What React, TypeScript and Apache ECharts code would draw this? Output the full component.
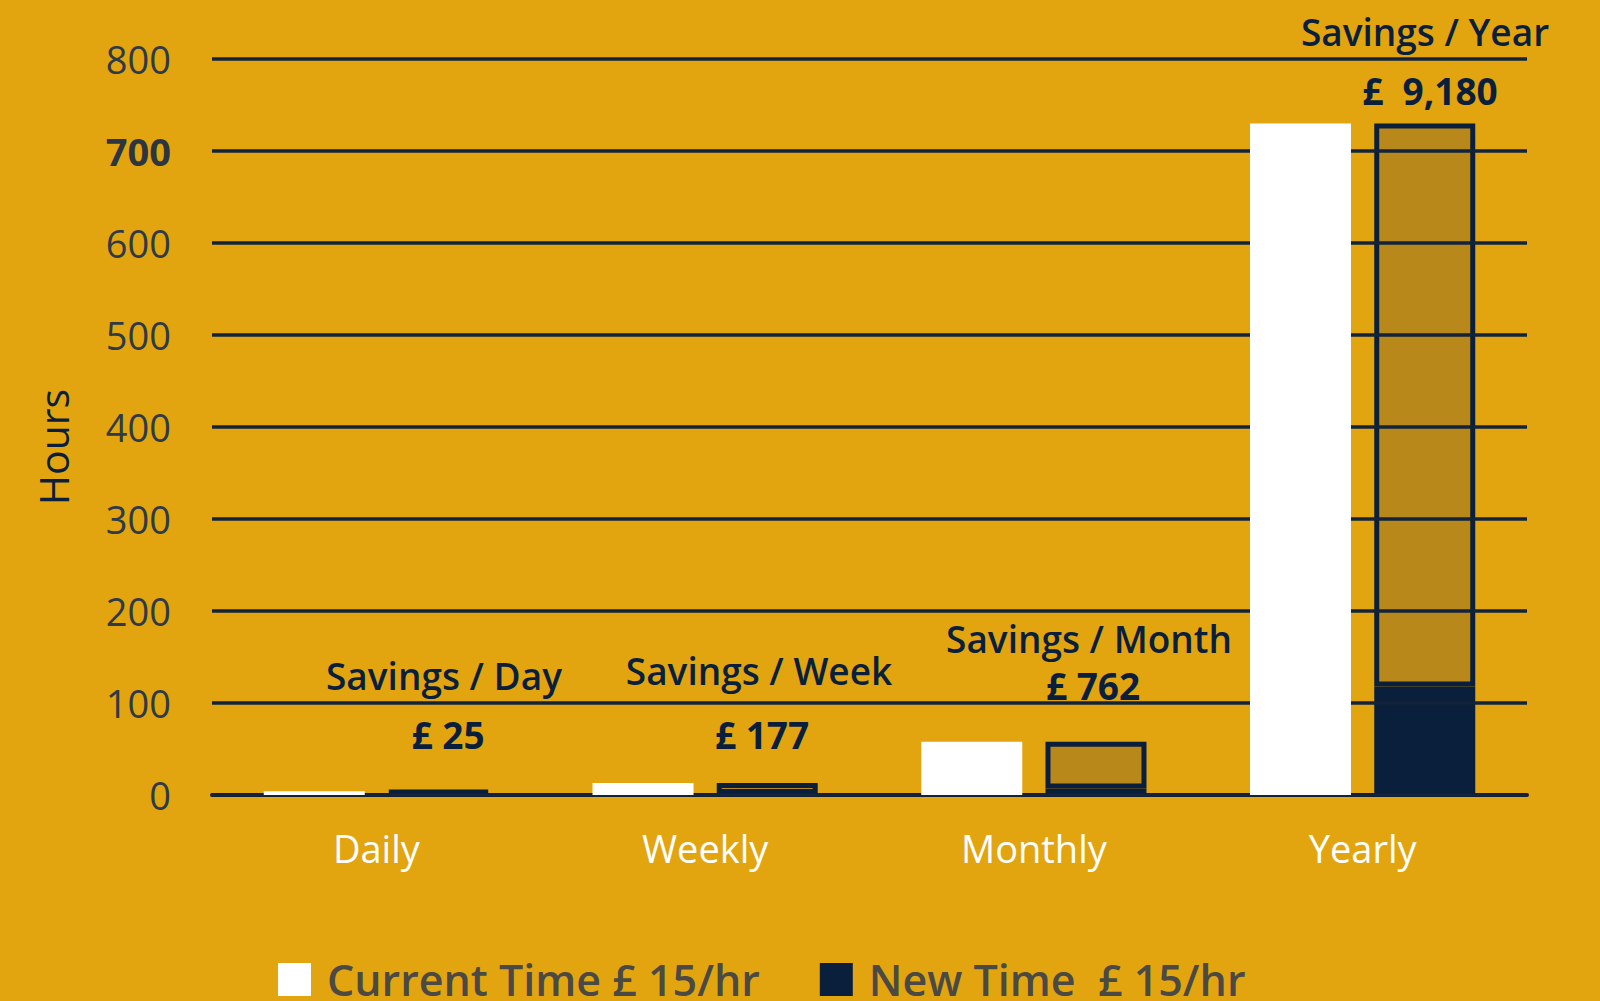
import React, { useEffect, useRef } from "react";
import * as echarts from "echarts";

const categories = ["Daily", "Weekly", "Monthly", "Yearly"];
const currentTime = [4, 13, 58, 730];
const newTime = [2.3, 1.2, 7.2, 118];
const savingsHours = [1.7, 11.8, 50.8, 612];
const savingsTitles = ["Savings / Day", "Savings / Week", "Savings / Month", "Savings / Year"];
const savingsAmounts = ["£ 25", "£ 177", "£ 762", "£  9,180"];
const yTicks = [0, 100, 200, 300, 400, 500, 600, 700, 800];
const seriesNames = ["Current Time £ 15/hr", "New Time  £ 15/hr", "Savings"];

const BG = "#E2A50F";
const NAVY = "#0A1F3B";
const GOLD = "#B8891A";
const FONT = "'Open Sans', 'DejaVu Sans', sans-serif";

// annotation placement (pixel layout), one per category
const titlePos = [
  [444, 675],
  [759, 670],
  [1089, 638],
  [1425, 31],
];
const amountPos = [
  [448, 734],
  [762, 734],
  [1093, 685],
  [1430, 90],
];

export default function App() {
  const ref = useRef<HTMLDivElement>(null);

  useEffect(() => {
    document.body.style.margin = "0";
    if (!ref.current) return;
    const chart = echarts.init(ref.current, null, { renderer: "svg" });

    const graphics: any[] = [];
    savingsTitles.forEach((t, i) => {
      graphics.push({
        type: "text",
        x: titlePos[i][0],
        y: titlePos[i][1],
        style: {
          text: t,
          fontSize: 37,
          fontWeight: 600,
          fontFamily: FONT,
          fill: NAVY,
          align: "center",
          verticalAlign: "middle",
          textAlign: "center",
          textVerticalAlign: "middle",
        },
      });
      graphics.push({
        type: "text",
        x: amountPos[i][0],
        y: amountPos[i][1],
        style: {
          text: savingsAmounts[i],
          fontSize: 37,
          fontWeight: 700,
          fontFamily: FONT,
          fill: NAVY,
          align: "center",
          verticalAlign: "middle",
          textAlign: "center",
          textVerticalAlign: "middle",
        },
      });
    });
    graphics.push({
      type: "text",
      x: 53,
      y: 447,
      rotation: Math.PI / 2,
      style: {
        text: "Hours",
        fontSize: 41,
        fontFamily: FONT,
        fill: NAVY,
        align: "center",
        verticalAlign: "middle",
        textAlign: "center",
        textVerticalAlign: "middle",
      },
    });

    chart.setOption({
      animation: false,
      backgroundColor: BG,
      grid: { left: 212, right: 73, top: 59, bottom: 206 },
      legend: {
        data: [seriesNames[0], seriesNames[1]],
        left: 273,
        top: 953,
        itemWidth: 33,
        itemHeight: 33,
        itemGap: 60,
        icon: "rect",
        textStyle: {
          fontSize: 43,
          fontWeight: 600,
          color: "#4A4944",
          fontFamily: FONT,
          padding: [0, 0, 0, 11],
        },
      },
      xAxis: {
        type: "category",
        data: categories,
        axisTick: { show: false },
        axisLine: { show: true, lineStyle: { color: NAVY, width: 4 } },
        axisLabel: {
          color: "#FFFFFF",
          fontSize: 38,
          fontFamily: FONT,
          margin: 34,
        },
      },
      yAxis: {
        type: "value",
        min: 0,
        max: 800,
        interval: 100,
        z: 3,
        axisLine: { show: false },
        axisTick: { show: false },
        splitLine: { show: true, lineStyle: { color: "#12233A", width: 3.5 } },
        axisLabel: {
          margin: 41,
          fontSize: 38,
          fontFamily: FONT,
          color: "#2E3A47",
          formatter: (v: number) => (yTicks.includes(v) && v === 700 ? "{b|" + v + "}" : String(v)),
          rich: {
            b: { fontSize: 38, fontWeight: 700, fontFamily: FONT, color: "#2B3640" },
          },
        },
      },
      series: [
        {
          name: seriesNames[0],
          type: "bar",
          data: currentTime,
          barWidth: 101,
          barGap: "23%",
          z: 5,
          itemStyle: { color: "#FFFFFF" },
        },
        {
          name: seriesNames[1],
          type: "bar",
          stack: "new",
          data: newTime,
          barWidth: 101,
          z: 2,
          itemStyle: { color: NAVY },
        },
        {
          name: seriesNames[2],
          type: "bar",
          stack: "new",
          data: savingsHours,
          barWidth: 101,
          z: 2,
          itemStyle: { color: GOLD, borderColor: NAVY, borderWidth: 5 },
        },
      ],
      graphic: graphics,
    });

    return () => {
      chart.dispose();
    };
  }, []);

  return <div ref={ref} style={{ width: 1600, height: 1001 }} />;
}
